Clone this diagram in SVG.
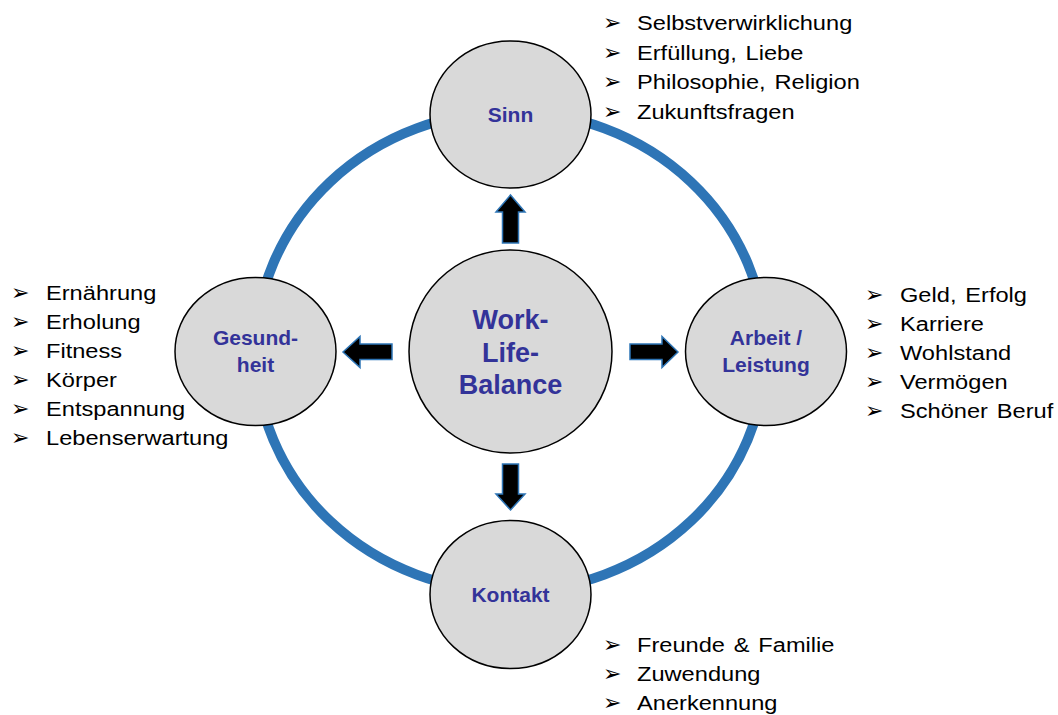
<svg xmlns="http://www.w3.org/2000/svg" width="1058" height="715" viewBox="0 0 1058 715">
<style>
.node{fill:#d9d9d9;stroke:#000;stroke-width:1.5}
.lbl{font-family:"Liberation Sans",Arial,sans-serif;font-weight:bold;font-size:21px;fill:#333399;text-anchor:middle}
.big{font-size:27px}
.arr{fill:#000;stroke:#2e75b6;stroke-width:1.5;stroke-linejoin:miter}
.list{font-family:"Liberation Sans",Arial,sans-serif;font-size:21px;fill:#000;word-spacing:2px}
.bul{font-family:"DejaVu Sans",sans-serif;font-size:22px;fill:#000}
</style>
<rect width="1058" height="715" fill="#fff"/>
<g id="ring">
<ellipse cx="510.5" cy="351.5" rx="255" ry="240" fill="none" stroke="#2e75b6" stroke-width="10"/>
</g>
<g id="connectors">
<polygon class="arr" points="510.5,195 525,212 518.5,212 518.5,243 502.5,243 502.5,212 496,212"/>
<polygon class="arr" points="510.5,510 525,494 518.5,494 518.5,464 502.5,464 502.5,494 496,494"/>
<polygon class="arr" points="343,352 360,336.5 360,344 392,344 392,359.5 360,359.5 360,367.5"/>
<polygon class="arr" points="678,352 662,336.5 662,344 630,344 630,359.5 662,359.5 662,367.5"/>
</g>
<g id="center">
<circle class="node" cx="510.5" cy="351.5" r="101.5"/>
<text class="lbl big" x="510.5" y="329">Work-</text>
<text class="lbl big" x="510.5" y="362">Life-</text>
<text class="lbl big" x="510.5" y="394">Balance</text>
</g>
<g id="sinn">
<ellipse class="node" cx="510.5" cy="114.5" rx="80.5" ry="73.5"/>
<text class="lbl" x="510.5" y="122">Sinn</text>
</g>
<g id="kontakt">
<ellipse class="node" cx="510.5" cy="594.5" rx="80.5" ry="74"/>
<text class="lbl" x="510.5" y="602">Kontakt</text>
</g>
<g id="gesundheit">
<ellipse class="node" cx="255.5" cy="351.5" rx="80.5" ry="74"/>
<text class="lbl" x="255.5" y="345">Gesund-</text>
<text class="lbl" x="255.5" y="372">heit</text>
</g>
<g id="arbeit">
<ellipse class="node" cx="766" cy="351.5" rx="80.5" ry="74"/>
<text class="lbl" x="766" y="345">Arbeit /</text>
<text class="lbl" x="766" y="372">Leistung</text>
</g>
<g id="list-sinn">
<text class="bul" x="603" y="30">➢</text>
<text class="bul" x="603" y="60">➢</text>
<text class="bul" x="603" y="89">➢</text>
<text class="bul" x="603" y="119">➢</text>
<g transform="translate(637,0) scale(1.125,1)">
<text class="list" x="0" y="30">Selbstverwirklichung</text>
<text class="list" x="0" y="60">Erfüllung, Liebe</text>
<text class="list" x="0" y="89">Philosophie, Religion</text>
<text class="list" x="0" y="119">Zukunftsfragen</text>
</g>
</g>
<g id="list-gesundheit">
<text class="bul" x="11" y="300">➢</text>
<text class="bul" x="11" y="329">➢</text>
<text class="bul" x="11" y="358">➢</text>
<text class="bul" x="11" y="387">➢</text>
<text class="bul" x="11" y="416">➢</text>
<text class="bul" x="11" y="445">➢</text>
<g transform="translate(46,0) scale(1.125,1)">
<text class="list" x="0" y="300">Ernährung</text>
<text class="list" x="0" y="329">Erholung</text>
<text class="list" x="0" y="358">Fitness</text>
<text class="list" x="0" y="387">Körper</text>
<text class="list" x="0" y="416">Entspannung</text>
<text class="list" x="0" y="445">Lebenserwartung</text>
</g>
</g>
<g id="list-arbeit">
<text class="bul" x="865" y="302">➢</text>
<text class="bul" x="865" y="331">➢</text>
<text class="bul" x="865" y="360">➢</text>
<text class="bul" x="865" y="389">➢</text>
<text class="bul" x="865" y="418">➢</text>
<g transform="translate(900,0) scale(1.125,1)">
<text class="list" x="0" y="302">Geld, Erfolg</text>
<text class="list" x="0" y="331">Karriere</text>
<text class="list" x="0" y="360">Wohlstand</text>
<text class="list" x="0" y="389">Vermögen</text>
<text class="list" x="0" y="418">Schöner Beruf</text>
</g>
</g>
<g id="list-kontakt">
<text class="bul" x="603" y="652">➢</text>
<text class="bul" x="603" y="681">➢</text>
<text class="bul" x="603" y="710">➢</text>
<g transform="translate(637,0) scale(1.125,1)">
<text class="list" x="0" y="652">Freunde &amp; Familie</text>
<text class="list" x="0" y="681">Zuwendung</text>
<text class="list" x="0" y="710">Anerkennung</text>
</g>
</g>
</svg>
